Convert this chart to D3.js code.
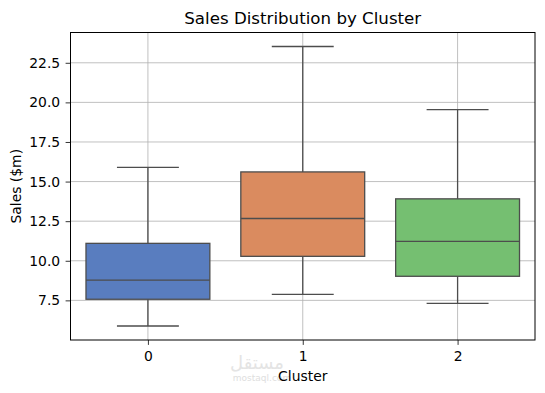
<!doctype html>
<html lang="en">
  <head>
    <meta charset="UTF-8" />
    <title>Sales Distribution by Cluster</title>
    <script src="https://d3js.org/d3.v7.min.js"></script>
    <style>
      html,
      body {
        margin: 0;
        padding: 0;
        background: #fff;
        overflow: hidden;
      }
      svg {
        display: block;
        font-family: "DejaVu Sans", sans-serif;
      }
    </style>
  </head>
  <body>
    <svg id="chart" width="545" height="393"></svg>

    <script>
      // five-number summaries (whisker low, Q1, median, Q3, whisker high)
      const clusters = ["0", "1", "2"];
      const whiskerLow = [5.88, 7.88, 7.31];
      const q1 = [7.57, 10.28, 9.02];
      const median = [8.78, 12.67, 11.22];
      const q3 = [11.1, 15.61, 13.91];
      const whiskerHigh = [15.9, 23.53, 19.54];
      const colors = ["#597dbf", "#da8b5f", "#75bf71"];
      const yTicks = [7.5, 10.0, 12.5, 15.0, 17.5, 20.0, 22.5];

      const margin = { left: 70.5, right: 10, top: 32.5, bottom: 53 };
      const width = 545, height = 393;
      const fs = 13.9; // 10pt
      const svg = d3.select("#chart");

      const rows = clusters.map((c, i) => ({
        c, lo: whiskerLow[i], q1: q1[i], med: median[i], q3: q3[i], hi: whiskerHigh[i], color: colors[i]
      }));

      // matplotlib style 5% padding around data range
      const dmin = d3.min(whiskerLow), dmax = d3.max(whiskerHigh);
      const pad = (dmax - dmin) * 0.05;

      const x = d3.scaleLinear().domain([-0.5, clusters.length - 0.5])
        .range([margin.left, width - margin.right]);
      const y = d3.scaleLinear().domain([dmin - pad, dmax + pad])
        .range([height - margin.bottom, margin.top]);
      const step = x(1) - x(0);

      // grid
      const grid = svg.append("g").attr("stroke", "#b0b0b0").attr("stroke-width", 0.8);
      grid.selectAll(".gy").data(yTicks).enter().append("line")
        .attr("x1", margin.left).attr("x2", width - margin.right)
        .attr("y1", (d) => y(d)).attr("y2", (d) => y(d));
      grid.selectAll(".gx").data(clusters).enter().append("line")
        .attr("x1", (d, i) => x(i)).attr("x2", (d, i) => x(i))
        .attr("y1", margin.top).attr("y2", height - margin.bottom);

      // boxes
      const lineColor = "#4d4d4d";
      const g = svg.append("g").attr("stroke", lineColor).attr("stroke-width", 1.3);
      rows.forEach((r, i) => {
        const cx = x(i);
        g.append("line").attr("x1", cx).attr("x2", cx).attr("y1", y(r.lo)).attr("y2", y(r.q1));
        g.append("line").attr("x1", cx).attr("x2", cx).attr("y1", y(r.q3)).attr("y2", y(r.hi));
        g.append("line").attr("x1", cx - step * 0.2).attr("x2", cx + step * 0.2).attr("y1", y(r.lo)).attr("y2", y(r.lo));
        g.append("line").attr("x1", cx - step * 0.2).attr("x2", cx + step * 0.2).attr("y1", y(r.hi)).attr("y2", y(r.hi));
        g.append("rect")
          .attr("x", cx - step * 0.4).attr("width", step * 0.8)
          .attr("y", y(r.q3)).attr("height", y(r.q1) - y(r.q3))
          .attr("fill", r.color);
        g.append("line").attr("x1", cx - step * 0.4).attr("x2", cx + step * 0.4).attr("y1", y(r.med)).attr("y2", y(r.med));
      });

      // axes
      const yAxis = d3.axisLeft(y).tickValues(yTicks).tickFormat(d3.format(".1f")).tickSize(4.9).tickPadding(5.4);
      const xAxis = d3.axisBottom(x).tickValues(d3.range(clusters.length)).tickFormat((d) => clusters[d]).tickSize(4.9).tickPadding(6.5);

      const ya = svg.append("g").attr("transform", `translate(${margin.left},0)`).call(yAxis);
      const xa = svg.append("g").attr("transform", `translate(0,${height - margin.bottom})`).call(xAxis);
      [ya, xa].forEach((a) => {
        a.select(".domain").remove();
        a.selectAll("text").attr("font-family", "DejaVu Sans").attr("font-size", fs).attr("fill", "#000");
        a.selectAll("line").attr("stroke", "#000").attr("stroke-width", 0.8);
      });

      // frame
      svg.append("rect")
        .attr("x", margin.left).attr("y", margin.top)
        .attr("width", width - margin.right - margin.left)
        .attr("height", height - margin.bottom - margin.top)
        .attr("fill", "none").attr("stroke", "#000").attr("stroke-width", 1);

      // watermark
      svg.append("text").attr("x", 257).attr("y", 369).attr("text-anchor", "middle")
        .attr("font-size", 18).attr("fill", "#e4e4e4").attr("font-family", "DejaVu Sans")
        .text("مستقل");
      svg.append("text").attr("x", 262).attr("y", 381).attr("text-anchor", "middle")
        .attr("font-size", 9).attr("fill", "#dedede").attr("font-family", "DejaVu Sans")
        .text("mostaql.com");

      // labels
      svg.append("text").attr("x", (margin.left + width - margin.right) / 2).attr("y", 23.5)
        .attr("text-anchor", "middle").attr("font-size", 16.67).attr("fill", "#000")
        .text("Sales Distribution by Cluster");
      svg.append("text").attr("x", (margin.left + width - margin.right) / 2).attr("y", 381)
        .attr("text-anchor", "middle").attr("font-size", fs).attr("fill", "#000")
        .text("Cluster");
      svg.append("text")
        .attr("transform", `translate(20.5,${(margin.top + height - margin.bottom) / 2}) rotate(-90)`)
        .attr("text-anchor", "middle").attr("font-size", fs).attr("fill", "#000")
        .text("Sales ($m)");
    </script>
  </body>
</html>
